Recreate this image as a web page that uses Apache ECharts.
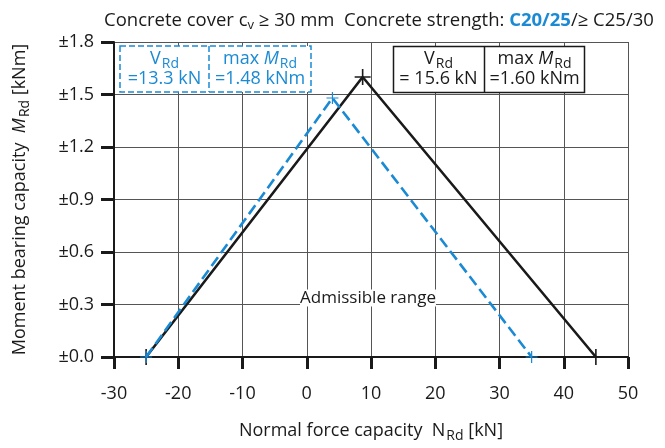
<!DOCTYPE html>
<html>
<head>
<meta charset="utf-8">
<script src="https://cdn.jsdelivr.net/npm/echarts@6/dist/echarts.min.js"></script>
<style>
  html, body { margin: 0; padding: 0; background: #fff; }
  #chart { width: 665px; height: 448px; }
</style>
</head>
<body>
<div id="chart"></div>
<script>
// Interaction diagram: normal force vs. moment capacity
const xTicks = [-30, -20, -10, 0, 10, 20, 30, 40, 50];
const yTicks = [0, 0.3, 0.6, 0.9, 1.2, 1.5, 1.8];
const yTickLabels = ['±0.0', '±0.3', '±0.6', '±0.9', '±1.2', '±1.5', '±1.8'];

// C25/30 (black, solid)
const strongN = [-25, 8.7, 45];
const strongM = [0, 1.60, 0];
// C20/25 (blue, dashed)
const weakN = [-25, 4, 35];
const weakM = [0, 1.48, 0];

const strongVRd = '15.6 kN';
const strongMaxM = '1.60 kNm';
const weakVRd = '13.3 kN';
const weakMaxM = '1.48 kNm';

const FONT = 'Open Sans';
const BLUE = '#1a8ad4';
const INK = '#1a1a1a';
const FS = 18;

const pairs = (xs, ys) => xs.map((x, i) => [x, ys[i]]);

const crossSymbol = 'path://M-0.1,-1 L0.1,-1 L0.1,1 L-0.1,1 Z M-1,-0.1 L1,-0.1 L1,0.1 L-1,0.1 Z';

const subStyle = (color) => ({ fontFamily: FONT, fontSize: 14, fontWeight: 'normal', color: color, padding: [10, 0, 0, 1] });
const baseStyle = (color) => ({ fontFamily: FONT, fontSize: FS, fontWeight: 'normal', color: color });
const italicStyle = (color) => ({ fontFamily: FONT, fontSize: FS, fontWeight: 'normal', color: color, fontStyle: 'italic' });

function cellText(x, y, text, color) {
  return {
    type: 'text',
    style: {
      x: x, y: y, text: text,
      align: 'center', verticalAlign: 'middle',
      fontFamily: FONT, fontSize: FS, fill: color,
      rich: { b: baseStyle(color), s: subStyle(color), i: italicStyle(color) }
    },
    z: 10
  };
}

const chart = echarts.init(document.getElementById('chart'));
chart.setOption({
  animation: false,
  backgroundColor: '#fff',
  title: {
    left: 99, top: 5,
    text: '{b|Concrete cover c}{s|v}{b| ≥ 30 mm  Concrete strength: }{blue|C20/25}{b|/≥ C25/30}',
    textStyle: {
      fontWeight: 'normal',
      rich: {
        b: { fontFamily: FONT, fontSize: 18.5, fontWeight: 'normal', color: INK },
        s: { fontFamily: FONT, fontSize: 13, fontWeight: 'normal', color: INK, padding: [9, 0, 0, 0] },
        blue: { fontFamily: FONT, fontSize: 18.5, color: BLUE, fontWeight: 'bold' }
      }
    }
  },
  grid: { left: 114, right: 37, top: 42, bottom: 76 },
  xAxis: {
    type: 'value', min: -30, max: 50, interval: 10,
    name: '{b|Normal force capacity  N}{s|Rd}{b| [kN]}',
    nameLocation: 'middle', nameGap: 62,
    nameTextStyle: { rich: { b: baseStyle(INK), s: subStyle(INK) } },
    axisLine: { onZero: false, lineStyle: { color: INK, width: 2 } },
    axisTick: { length: 12, lineStyle: { color: INK, width: 3 } },
    axisLabel: {
      margin: 28, fontFamily: FONT, fontSize: FS, color: INK,
      formatter: (v) => String(xTicks[xTicks.indexOf(v)])
    },
    splitLine: { show: true, lineStyle: { color: '#555', width: 1 } }
  },
  yAxis: {
    type: 'value', min: 0, max: 1.8, interval: 0.3,
    name: '{b|Moment bearing capacity  }{i|M}{s|Rd}{b| [kNm]}',
    nameLocation: 'middle', nameGap: 82, nameRotate: 90,
    nameTextStyle: { rich: { b: baseStyle(INK), s: subStyle(INK), i: italicStyle(INK) } },
    axisLine: { onZero: false, lineStyle: { color: INK, width: 2 } },
    axisTick: { length: 13, lineStyle: { color: INK, width: 3 } },
    axisLabel: {
      margin: 20, fontFamily: FONT, fontSize: FS, color: INK,
      formatter: (v) => {
        const i = yTicks.findIndex((t) => Math.abs(t - v) < 1e-6);
        return i >= 0 ? yTickLabels[i] : '';
      }
    },
    splitLine: { show: true, lineStyle: { color: '#555', width: 1 } }
  },
  series: [
    {
      type: 'line',
      data: pairs(strongN, strongM),
      lineStyle: { color: INK, width: 2.6 },
      itemStyle: { color: INK },
      symbol: crossSymbol, symbolSize: 16,
      z: 5
    },
    {
      type: 'line',
      data: pairs(weakN, weakM),
      lineStyle: { color: BLUE, width: 2.6, type: [11, 5] },
      itemStyle: { color: BLUE },
      symbol: crossSymbol, symbolSize: 12,
      z: 6
    }
  ],
  graphic: [
    // C20/25 result box (dashed)
    { type: 'rect', shape: { x: 120, y: 46, width: 191, height: 46 },
      style: { fill: '#fff', stroke: BLUE, lineWidth: 1.5, lineDash: [6, 3] }, z: 9 },
    { type: 'line', shape: { x1: 209, y1: 46, x2: 209, y2: 92 },
      style: { stroke: BLUE, lineWidth: 1.5, lineDash: [6, 3] }, z: 9 },
    cellText(164.5, 59, '{b|V}{s|Rd}', BLUE),
    cellText(164.5, 79, '{b|=' + weakVRd + '}', BLUE),
    cellText(260, 59, '{b|max }{i|M}{s|Rd}', BLUE),
    cellText(260, 79, '{b|=' + weakMaxM + '}', BLUE),
    // C25/30 result box (solid)
    { type: 'rect', shape: { x: 393.5, y: 46.5, width: 191, height: 46 },
      style: { fill: '#fff', stroke: INK, lineWidth: 1.5 }, z: 9 },
    { type: 'line', shape: { x1: 484.5, y1: 46.5, x2: 484.5, y2: 92.5 },
      style: { stroke: INK, lineWidth: 1.5 }, z: 9 },
    cellText(438.5, 59, '{b|V}{s|Rd}', INK),
    cellText(438.5, 79, '{b|= ' + strongVRd + '}', INK),
    cellText(534.5, 59, '{b|max }{i|M}{s|Rd}', INK),
    cellText(534.5, 79, '{b|=' + strongMaxM + '}', INK),
    // region caption
    { type: 'text', z: 10,
      style: { x: 368, y: 298, text: 'Admissible range', align: 'center', verticalAlign: 'middle',
               fontFamily: FONT, fontSize: 17, fill: INK, backgroundColor: '#fff' } }
  ]
});
</script>
</body>
</html>
